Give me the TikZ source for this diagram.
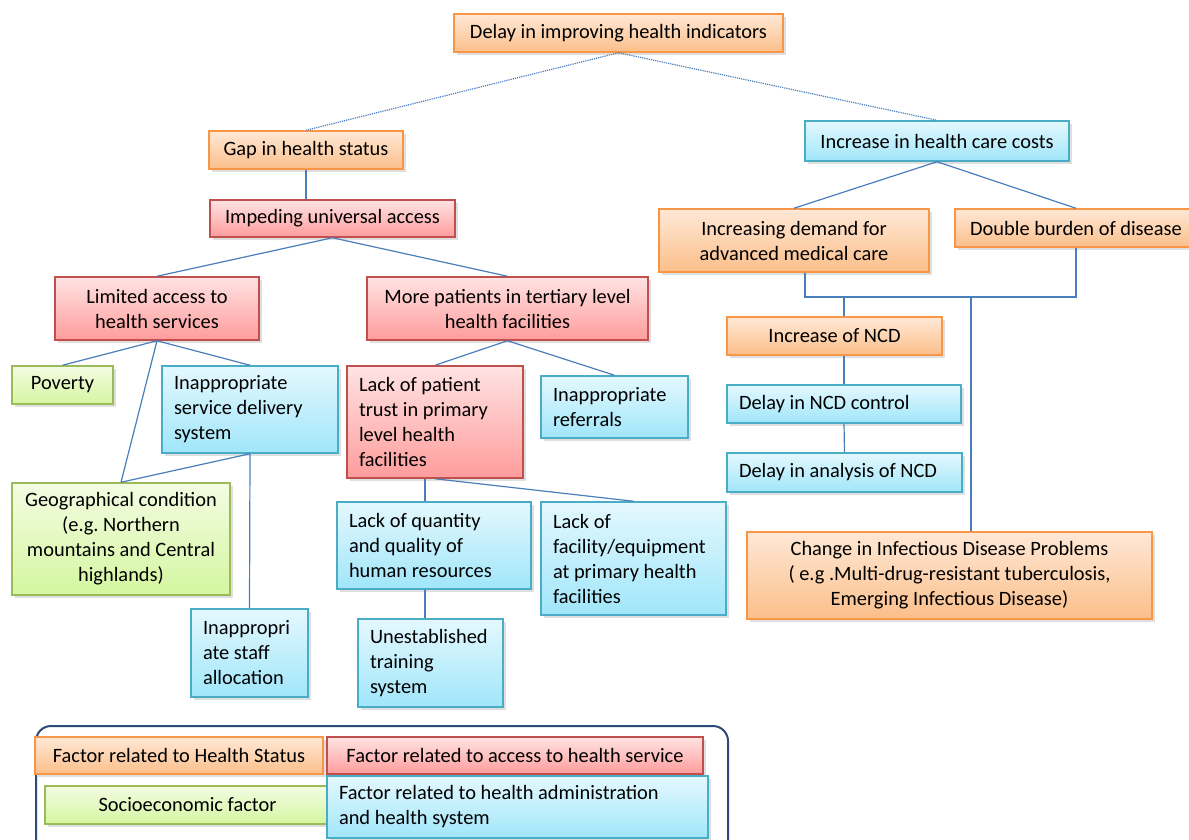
\documentclass[tikz,border=0pt]{standalone}
\usepackage{fontspec}
\setmainfont{Carlito}
\usepackage{xcolor}
\usetikzlibrary{positioning, shadows}
\definecolor{orangeline}{HTML}{F79646}
\definecolor{orangetop}{HTML}{FFE8D6}
\definecolor{orangebot}{HTML}{FBBF8A}
\definecolor{redline}{HTML}{C0504D}
\definecolor{redtop}{HTML}{FFE3E3}
\definecolor{redbot}{HTML}{FF9C9C}
\definecolor{blueline}{HTML}{4BACC6}
\definecolor{bluetop}{HTML}{E4F8FE}
\definecolor{bluebot}{HTML}{A0E6FA}
\definecolor{greenline}{HTML}{9BBB59}
\definecolor{greentop}{HTML}{F3FCE2}
\definecolor{greenbot}{HTML}{D4F6A0}
\definecolor{linkcol}{HTML}{4A7EBB}
\definecolor{keyframe}{HTML}{2E4A78}
\hyphenpenalty=10000
\frenchspacing

\begin{document}
\begin{tikzpicture}[
    x=1pt, y=-1pt,
    font=\fontsize{20.4}{25}\selectfont,
    box/.style={inner xsep=12pt, inner ysep=4pt, line width=1.5pt, drop shadow={shadow xshift=3pt, shadow yshift=-3pt, opacity=.25}},
    hs/.style={box, draw=orangeline, top color=orangetop, bottom color=orangebot},
    acc/.style={box, draw=redline, top color=redtop, bottom color=redbot},
    adm/.style={box, draw=blueline, top color=bluetop, bottom color=bluebot},
    soc/.style={box, draw=greenline, top color=greentop, bottom color=greenbot},
    cbox/.style 2 args={align=center, minimum width=#1, minimum height=#2},
    lbox/.style 2 args={align=flush left, text width=#1, minimum height=#2},
    link/.style={linkcol, line width=1.2pt},
    dotlink/.style={link, densely dotted}
]
    \useasboundingbox (0,0) rectangle (1189,840);
    % top levels
    \node[hs, cbox={329pt}{38pt}] (delay) at (618.5,33) {Delay in improving health indicators};
    \node[hs, cbox={194pt}{38pt}] (gap) at (306,150) {Gap in health status};
    \node[adm, cbox={264pt}{40pt}] (cost) at (937,141) {Increase in health care costs};
    \node[acc, cbox={245pt}{37pt}] (imped) at (332.5,218.5) {Impeding universal access};
    % left branch
    \node[acc, cbox={204pt}{63pt}] (limited) at (157,308.5) {Limited access to\\health services};
    \node[acc, cbox={281pt}{63pt}] (tertiary) at (507.5,308.5) {More patients in tertiary level\\health facilities};
    \node[soc, cbox={101pt}{38pt}] (poverty) at (62.5,385) {Poverty};
    \node[adm, lbox={152pt}{87pt}] (service) at (250,409.5) {Inappropriate\\service delivery\\system};
    \node[acc, lbox={152pt}{112pt}] (trust) at (435,422) {Lack of patient\\trust in primary\\level health\\facilities};
    \node[adm, lbox={123pt}{62pt}] (referral) at (614.5,407) {Inappropriate\\referrals};
    \node[soc, cbox={218pt}{112pt}] (geo) at (121,539) {Geographical condition\\(e.g. Northern\\mountains and Central\\highlands)};
    \node[adm, lbox={93pt}{88pt}] (staff) at (249.5,653) {Inappropri\\ate staff\\allocation};
    \node[adm, lbox={170pt}{87pt}] (human) at (434,545.5) {Lack of quantity\\and quality of\\human resources};
    \node[adm, lbox={161pt}{113pt}] (equip) at (633.5,558.5) {Lack of\\facility/equipment\\at primary health\\facilities};
    \node[adm, lbox={121pt}{88pt}] (training) at (430.5,663) {Unestablished\\training\\system};
    % right branch
    \node[hs, cbox={270pt}{63pt}] (demand) at (794,240.5) {Increasing demand for\\advanced medical care};
    \node[hs, cbox={242pt}{38pt}] (double) at (1076,228) {Double burden of disease};
    \node[hs, cbox={215pt}{38pt}] (ncd) at (834.5,336) {Increase of NCD};
    \node[adm, lbox={210pt}{38pt}] (control) at (844,404) {Delay in NCD control};
    \node[adm, lbox={211pt}{39pt}] (analysis) at (844.5,472.5) {Delay in analysis of NCD};
    \node[hs, cbox={405pt}{87pt}] (infect) at (949.5,575.5) {Change in Infectious Disease Problems\\( e.g .Multi-drug-resistant tuberculosis,\\Emerging Infectious Disease)};
    \coordinate (join) at (844,297);
    \coordinate (join2) at (971,297);

    % connectors
    \draw[dotlink] (delay.south) -- (gap.north);
    \draw[dotlink] (delay.south) -- (cost.north);
    \draw[link] (gap.south) -- (gap.south |- imped.north);
    \draw[link] (imped.south) -- (limited.north);
    \draw[link] (imped.south) -- (tertiary.north);
    \draw[link] (limited.south) -- (poverty.north);
    \draw[link] (limited.south) -- (service.north);
    \draw[link] (limited.south) -- (geo.north);
    \draw[link] (service.south) -- (geo.north);
    \draw[link] (service.south) -- (staff.north);
    \draw[link] (tertiary.south) -- (trust.north);
    \draw[link] (tertiary.south) -- (referral.north);
    \draw[link] (trust.south) -- (equip.north);
    \draw[link] ([xshift=-9pt]human.north) -- ([xshift=-9pt]human.north |- trust.south);
    \draw[link] ([xshift=-9pt]human.south) -- ([xshift=-9pt]human.south |- training.north);
    \draw[link] (cost.south) -- (demand.north);
    \draw[link] (cost.south) -- (double.north);
    \draw[link] ([xshift=11pt]demand.south) |- (join) -| (double.south);
    \draw[link] (join) -- (join |- ncd.north);
    \draw[link] (control.north |- ncd.south) -- (control.north);
    \draw[link] (control.south) -- (analysis.north);
    \draw[link] (join2) -- (join2 |- infect.north);

    % legend
    \draw[keyframe, line width=2pt, rounded corners=15pt] (36,726) rectangle (728,880);
    \node[hs, cbox={288pt}{37pt}] (keyhs) at (179,755.5) {Factor related to Health Status};
    \node[acc, cbox={376pt}{37pt}] (keyacc) at (515,755.5) {Factor related to access to health service};
    \node[soc, cbox={285pt}{38pt}] (keysoc) at (187.5,805) {Socioeconomic factor};
    \node[adm, lbox={357pt}{62pt}] (keyadm) at (517.5,807) {Factor related to health administration\\and health system};
\end{tikzpicture}
\end{document}
